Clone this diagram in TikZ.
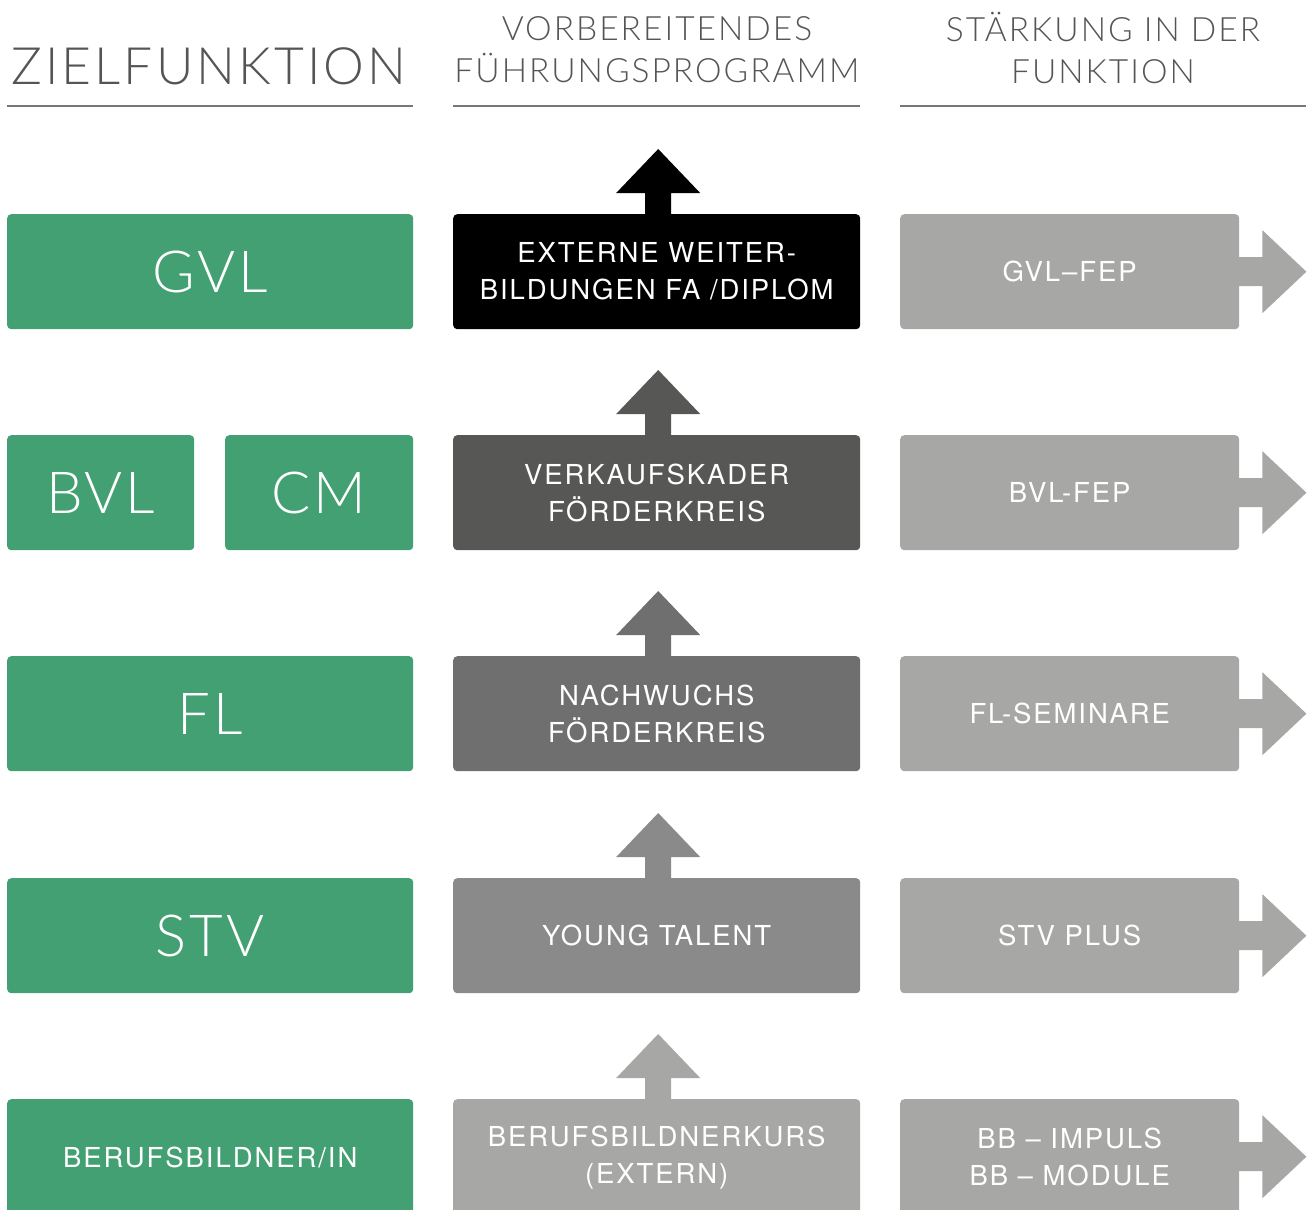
\documentclass[tikz,border=0pt]{standalone}
\usepackage{fontspec}
\setmainfont{TeX Gyre Heros}
\newfontfamily\boxfont[LetterSpace=7]{TeX Gyre Heros}
\newfontfamily\hdrfont[LetterSpace=6]{Lato Light}
\newfontfamily\bigfont[LetterSpace=5]{Lato Light}
\definecolor{grn}{HTML}{43A073}
\definecolor{mA}{HTML}{000000}
\definecolor{mB}{HTML}{575756}
\definecolor{mC}{HTML}{6F6F6F}
\definecolor{mD}{HTML}{8A8A8A}
\definecolor{mE}{HTML}{A7A7A6}
\definecolor{hdrgray}{HTML}{555555}
\definecolor{rulegray}{HTML}{777777}
\tikzset{
  x=1pt, y=-1pt,
  tile/.style={rectangle, rounded corners=4pt, anchor=north west, inner sep=0pt,
    minimum height=115pt, text=white, align=center},
  wide/.style={tile, minimum width=407pt},
  rbox/.style={tile, minimum width=339pt, fill=mE},
  small/.style={font=\boxfont\fontsize{27.5}{37}\selectfont},
  big/.style={font=\bigfont\fontsize{58}{60}\selectfont},
  hdr/.style={text=hdrgray, align=center, inner sep=0pt},
  hrule/.style={draw=rulegray, line width=1.3pt},
}
\begin{document}
\begin{tikzpicture}
\useasboundingbox (0,0) rectangle (1313,1209);
\clip (0,0) rectangle (1313,1209);
% headers
\node[hdr, font=\hdrfont\fontsize{51.5}{52}\selectfont] (h1) at (209,66) {ZIELFUNKTION};
\node[hdr, font=\hdrfont\fontsize{33.5}{42}\selectfont] (h2) at (657,50) {VORBEREITENDES\\FÜHRUNGSPROGRAMM};
\node[hdr, font=\hdrfont\fontsize{33.5}{42}\selectfont] (h3) at (1103,48) {STÄRKUNG IN DER\\FUNKTION};
\coordinate (l1a) at (7,106); \coordinate (l1b) at (413,106);
\coordinate (l2a) at (453,106); \coordinate (l2b) at (860,106);
\coordinate (l3a) at (900,106); \coordinate (l3b) at (1306,106);
\draw[hrule] (l1a) -- (l1b);
\draw[hrule] (l2a) -- (l2b);
\draw[hrule] (l3a) -- (l3b);
% left column
\node[wide, fill=grn, big, minimum width=406pt] (g1) at (7,214) {GVL};
\node[tile, fill=grn, big, minimum width=187pt] (g2a) at (7,435) {BVL};
\node[tile, fill=grn, big, minimum width=188pt] (g2b) at (225,435) {CM};
\node[wide, fill=grn, big, minimum width=406pt] (g3) at (7,656) {FL};
\node[wide, fill=grn, big, minimum width=406pt] (g4) at (7,878) {STV};
\node[wide, fill=grn, small, minimum width=406pt, minimum height=116pt] (g5) at (7,1099) {BERUFSBILDNER/IN};
% middle column
\node[wide, fill=mA, small] (m1) at (453,214) {EXTERNE WEITER-\\BILDUNGEN FA /DIPLOM};
\node[wide, fill=mB, small] (m2) at (453,435) {VERKAUFSKADER\\FÖRDERKREIS};
\node[wide, fill=mC, small] (m3) at (453,656) {NACHWUCHS\\FÖRDERKREIS};
\node[wide, fill=mD, small] (m4) at (453,878) {YOUNG TALENT};
\node[wide, fill=mE, small, minimum height=116pt] (m5) at (453,1099) {BERUFSBILDNERKURS\\(EXTERN)};
% up arrows
\foreach \n/\c in {m1/mA, m2/mB, m3/mC, m4/mD, m5/mE}{
  \fill[\c] (\n.north) ++(-11.5,1) -- ++(0,-22) -- ++(-29,0) -- ++(42,-44) -- ++(42,44) -- ++(-29,0) -- ++(0,22) -- cycle;
}
% right column
\node[rbox, small] (r1) at (900,214) {GVL–FEP};
\node[rbox, small] (r2) at (900,435) {BVL-FEP};
\node[rbox, small] (r3) at (900,656) {FL-SEMINARE};
\node[rbox, small] (r4) at (900,878) {STV PLUS};
\node[rbox, small] (r5) at (900,1099) {BB – IMPULS\\BB – MODULE};
\foreach \n in {r1,r2,r3,r4,r5}{
  \fill[mE] (\n.east) ++(-1,-14.5) -- ++(24,0) -- ++(0,-27) -- ++(44,41.5) -- ++(-44,41.5) -- ++(0,-27) -- ++(-24,0) -- cycle;
}
\end{tikzpicture}
\end{document}
